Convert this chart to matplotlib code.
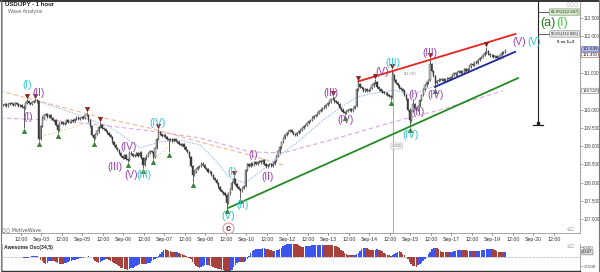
import numpy as np
import pandas as pd
import matplotlib
matplotlib.use("Agg")
import matplotlib.pyplot as plt
from matplotlib import transforms
from matplotlib.patches import Circle
from matplotlib.lines import Line2D

plt.rcParams['font.family'] = ['Liberation Sans', 'DejaVu Sans']

# ---------------------------------------------------------------- data
# hourly closes, USD/JPY
closes = [
    110.12, 110.15, 110.10, 110.14, 110.18, 110.16, 110.12, 110.18, 110.15, 110.10,
    110.12, 110.08, 110.05, 110.18, 110.24, 110.17, 110.14, 110.20, 110.23, 110.25,
    110.22, 109.20, 109.55, 109.78, 109.85, 109.88, 109.80, 109.84, 109.76, 109.72,
    109.70, 109.58, 109.45, 109.62, 109.66, 109.60, 109.64, 109.70, 109.65, 109.66,
    109.72, 109.68, 109.74, 109.78, 109.73, 109.77, 109.80, 109.76, 109.84, 109.86,
    109.70, 109.55, 109.30, 109.22, 109.32, 109.40, 109.52, 109.58, 109.50, 109.46,
    109.42, 109.36, 109.30, 109.25, 109.12, 109.02, 108.95, 108.88, 108.80, 108.72,
    108.68, 108.75, 108.64, 108.62, 108.82, 108.78, 108.72, 108.76, 108.80, 108.74,
    108.82, 108.68, 108.48, 108.66, 108.74, 108.80, 108.86, 108.84, 108.70, 108.95,
    109.20, 109.38, 109.32, 109.28, 109.30, 109.24, 109.20, 109.16, 109.20, 109.15,
    109.18, 109.14, 109.10, 109.06, 109.02, 109.05, 108.96, 108.90, 108.84, 108.70,
    108.45, 108.20, 108.30, 108.38, 108.42, 108.46, 108.52, 108.48, 108.40, 108.36,
    108.30, 108.28, 108.20, 108.12, 108.06, 107.98, 107.88, 107.80, 107.74, 107.70,
    107.66, 107.45, 107.70, 107.82, 108.00, 108.10, 107.95, 107.88, 107.82, 107.78,
    107.84, 107.90, 108.35, 108.50, 108.46, 108.52, 108.48, 108.55, 108.50, 108.56,
    108.60, 108.55, 108.62, 108.50, 108.44, 108.48, 108.50, 108.46, 108.52, 108.58,
    108.72, 108.85, 108.96, 109.10, 109.22, 109.30, 109.36, 109.42, 109.44, 109.38,
    109.34, 109.30, 109.36, 109.40, 109.44, 109.50, 109.55, 109.58, 109.62, 109.68,
    109.72, 109.78, 109.82, 109.86, 109.90, 109.95, 110.00, 110.04, 110.08, 110.12,
    110.18, 110.22, 110.28, 110.30, 110.22, 110.20, 110.16, 110.05, 110.00, 109.94,
    109.90, 109.96, 109.98, 110.02, 109.96, 110.04, 110.10, 110.55, 110.70, 110.62,
    110.58, 110.52, 110.56, 110.50, 110.54, 110.60, 110.66, 110.72, 110.76, 110.62,
    110.55, 110.52, 110.48, 110.45, 110.44, 110.40, 110.36, 110.34, 110.95, 110.80,
    110.72, 110.66, 110.60, 110.56, 110.52, 110.40, 110.28, 110.00, 109.70, 109.95,
    110.15, 110.05, 109.98, 110.10, 110.25, 110.40, 110.55, 110.66, 110.74, 110.80,
    111.25, 111.05, 110.92, 110.72, 110.78, 110.82, 110.80, 110.84, 110.78, 110.82,
    110.86, 110.84, 110.88, 110.95, 111.00, 110.96, 111.02, 111.05, 111.00, 111.04,
    111.10, 111.06, 111.10, 111.18, 111.24, 111.22, 111.30, 111.28, 111.36, 111.40,
    111.44, 111.50, 111.56, 111.60, 111.52, 111.48, 111.50, 111.44, 111.46, 111.40,
    111.44, 111.50, 111.56, 111.58, 111.63,
]

# long wicks (bar hour, extreme price)
spike_hi_hours = [14, 19, 49, 57, 91, 135, 193, 208, 218, 228, 240, 250, 283]
spike_hi_prices = [110.28, 110.28, 109.92, 109.65, 109.46, 108.17, 110.36, 110.77,
                   110.83, 111.10, 110.30, 111.40, 111.72]
spike_lo_hours = [12, 21, 32, 53, 73, 82, 88, 97, 111, 131, 139, 200, 227, 238, 253]
spike_lo_prices = [109.49, 109.14, 109.36, 109.14, 108.56, 108.40, 108.64, 108.84,
                   108.01, 107.30, 107.58, 109.85, 110.26, 109.52, 110.60]

# swing markers
swing_high_hours = [14, 19, 49, 57, 91, 135, 193, 208, 218, 228, 250, 283]
swing_low_hours = spike_lo_hours

# Elliott wave counts: (text, degree, hour, price)
wave_labels = [
    ("(I)", "minor", 14.1, 110.67), ("(II)", "minute", 20.5, 110.45),
    ("(I)", "minute", 14.6, 109.79), ("(III)", "minute", 65.6, 108.42),
    ("(IV)", "minute", 73.2, 108.97), ("(V)", "minute", 74.8, 108.21),
    ("(III)", "minor", 82.6, 108.21), ("(IV)", "minor", 90.7, 109.63),
    ("(V)", "minor", 131.7, 107.08), ("(I)", "minor", 134.1, 108.29),
    ("(II)", "minor", 140.0, 107.38), ("(I)", "minute", 146.4, 108.75),
    ("(II)", "minute", 154.6, 108.15), ("(III)", "minute", 192.0, 110.45),
    ("(IV)", "minute", 200.8, 109.71), ("(V)", "minute", 222.0, 111.03),
    ("(III)", "minor", 228.3, 111.27), ("(IV)", "minor", 238.3, 109.30),
    ("(I)", "minute", 240.0, 110.40), ("(II)", "minute", 243.5, 109.93),
    ("(III)", "minute", 250.0, 111.55), ("(IV)", "minute", 253.0, 110.40),
    ("(V)", "minute", 302.0, 111.85), ("(V)", "minor", 311.0, 111.85),
]

# trend channel
red_line_hours, red_line_prices = [208, 300], [110.77, 112.07]
navy_line_hours, navy_line_prices = [252.9, 299.8], [110.62, 111.58]
green_line_hours, green_line_prices = [131.7, 301.5], [107.30, 110.86]

# moving averages
orange_ma_hours = [-2, 27.5, 56.8, 86, 115.3, 144.6, 164]
orange_ma_prices = [110.51, 110.15, 109.79, 109.49, 109.11, 108.75, 108.48]
lilac_ma_hours = [-2, 27.5, 56.8, 91.9, 115.3, 144.6, 163.9, 191.5, 232.4, 255.9, 292.7]
lilac_ma_prices = [109.77, 109.71, 109.58, 109.38, 109.22, 108.84, 108.81, 109.16,
                   109.71, 109.99, 110.51]
blue_ma_hours = [21.7, 39.2, 62.6, 80.2, 91.9, 103.6, 115.3, 124.1, 132.9, 141.7, 150.5,
                 163.9, 173.9, 187.4, 197.2, 207.2, 217.7, 229.5, 238.3, 250.0, 261.7,
                 279.3, 293.9]
blue_ma_prices = [110.21, 109.93, 109.52, 108.95, 109.11, 109.16, 109.03, 108.62, 108.12,
                  107.99, 108.29, 108.81, 109.16, 109.71, 110.04, 110.34, 110.45, 110.53,
                  110.40, 110.59, 110.81, 111.19, 111.41]

# Fibonacci projection
fib_hour = 313.2
fib_low = 109.58
fib_levels = [112.67, 112.07]
fib_texts = ["61.8%(112.667)", "50.0%(112.065)"]

time_labels = ["12:00", "Sep-03", "12:00", "Sep-05", "12:00", "Sep-06", "12:00", "Sep-07",
               "12:00", "Sep-08", "12:00", "Sep-10", "12:00", "Sep-12", "12:00", "Sep-13",
               "12:00", "Sep-14", "12:00", "Sep-15", "12:00", "Sep-17", "12:00", "Sep-19",
               "12:00", "Sep-20", "12:00"]
first_label_hour = 10.5
label_step_hours = 12

price_ticks = [107.0, 107.5, 108.0, 108.5, 109.0, 109.5, 110.0, 110.5, 111.0, 111.5,
               112.0, 112.5]
osc_ticks = [0.5, -0.5]
last_price = 111.649
channel_value = 111.492
ma_value = 110.510

# ---------------------------------------------------------------- derived bars
c = np.array(closes)
n = len(c)
hours = np.arange(n)
o = np.r_[c[0], c[:-1]]
hi = np.maximum(o, c) + 0.03
lo = np.minimum(o, c) - 0.03
hi[spike_hi_hours] = np.maximum(hi[spike_hi_hours], spike_hi_prices)
lo[spike_lo_hours] = np.minimum(lo[spike_lo_hours], spike_lo_prices)

median = pd.Series((hi + lo) / 2)
ao = (median.rolling(5, min_periods=1).mean() - median.rolling(34, min_periods=1).mean()).values
ao_up = np.r_[True, ao[1:] >= ao[:-1]]

# ---------------------------------------------------------------- figure
W, H = 600, 272
fig = plt.figure(figsize=(6.0, 2.72), dpi=100, facecolor="white")

def fy(y_px):
    return 1 - y_px / H

XLIM = (-0.6, 337.8)
ax = fig.add_axes([2 / W, fy(233), 578 / W, 231 / H])
ax.set_xlim(*XLIM)
ax.set_ylim(106.617, 112.945)
ax.set_facecolor("white")

PURPLE = "#9b3fb2"
CYAN = "#2ec3d5"
deg_color = {"minute": PURPLE, "minor": CYAN}

# moving averages
ax.plot(orange_ma_hours, orange_ma_prices, ls=(0, (4, 2.5)), color="#f6b58c", lw=0.8, zorder=1)
ax.plot(lilac_ma_hours, lilac_ma_prices, ls=(0, (4, 2.5)), color="#dba8e2", lw=0.8, zorder=1)
ax.plot(blue_ma_hours, blue_ma_prices, ls=(0, (1.5, 1)), color="#a9c2f2", lw=0.8, zorder=1)
ax.plot([21.7, 49.2], [109.25, 109.63], ls=(0, (3, 2)), color="#ddd59c", lw=0.6, zorder=1)
ax.plot([87.8, 99.5], [108.62, 109.08], ls=(0, (3, 2)), color="#ddd59c", lw=0.6, zorder=1)

# vertical time marker
ax.plot([228.3, 228.3], [111.08, 106.617], color="#b0b0b0", lw=0.8, zorder=1)
ax.text(230.5, 109.0, "1.000", fontsize=2.8, color="#777", ha="center", va="center",
        bbox=dict(boxstyle="round,pad=0.25", fc="#f2f2f2", ec="#bbb", lw=0.4), zorder=3)
ax.text(234.5, 110.97, "111.040", fontsize=2.6, color="#888", ha="left", va="center", zorder=3)

# price bars
ax.vlines(hours, lo, hi, color="#454545", lw=0.6, zorder=2)
body = np.maximum(np.abs(c - o), 0.012)
up = c >= o
ax.bar(hours[up], body[up], bottom=np.minimum(o, c)[up], width=0.7,
       color="#c4c4c4", edgecolor="#3a3a3a", lw=0.3, zorder=2)
ax.bar(hours[~up], body[~up], bottom=np.minimum(o, c)[~up], width=0.7,
       color="#3a3a3a", edgecolor="#3a3a3a", lw=0.3, zorder=2)

# trend channel
ax.plot(red_line_hours, red_line_prices, color="#e8241f", lw=1.3, zorder=4)
ax.plot(navy_line_hours, navy_line_prices, color="#202a9c", lw=1.3, zorder=4)
ax.plot(green_line_hours, green_line_prices, color="#238b22", lw=1.3, zorder=4)

# swing markers
up_off = transforms.offset_copy(ax.transData, fig=fig, x=0, y=2.2, units="points")
dn_off = transforms.offset_copy(ax.transData, fig=fig, x=0, y=-2.2, units="points")
ax.plot(swing_high_hours, hi[swing_high_hours], "v", ms=3.2, color="#9c1c1c",
        mec="#6a1010", mew=0.3, ls="none", transform=up_off, zorder=5)
ax.plot(swing_low_hours, lo[swing_low_hours], "^", ms=3.2, color="#2d8c2d",
        mec="#1a5a1a", mew=0.3, ls="none", transform=dn_off, zorder=5)

# wave labels
for txt, deg, h, p in wave_labels:
    ax.text(h, p, txt, color=deg_color[deg], fontsize=7.3, ha="center", va="center", zorder=6)
ax.text(319.0, 112.37, "(a)", color="#1e7b1e", fontsize=9, ha="center", va="center", zorder=6)
ax.text(327.5, 112.37, "(I)", color="#45c845", fontsize=9, ha="center", va="center", zorder=6)

# overlay in pixel units for the circled wave c
px_ax = fig.add_axes([0, 0, 1, 1], facecolor="none")
px_ax.set_axis_off()
px_ax.set_xlim(0, W)
px_ax.set_ylim(H, 0)
px_ax.add_patch(Circle((228.5, 228.5), 5.5, fc="white", ec="#e09a9a", lw=0.8))
px_ax.text(228.5, 228.3, "c", color="#a01f1f", fontsize=6.5, fontweight="bold",
           ha="center", va="center")

# Fibonacci projection
ax.plot([fib_hour, fib_hour], [112.945, fib_low], color="#222", lw=0.8, zorder=4)
ax.plot([fib_hour - 3.2, fib_hour + 3.2], [fib_low, fib_low], color="#222", lw=0.9, zorder=4)
ax.plot([fib_hour], [fib_low + 0.05], "s", ms=1.6, color="#222", zorder=4)
for lvl, txt, fc in zip(fib_levels, fib_texts, ["#cfe8bd", "#e4e4e4"]):
    ax.plot([fib_hour, 320.8], [lvl, lvl], color="#444", lw=0.6, zorder=4)
    ax.text(328.8, lvl, txt, fontsize=2.9, color="#333", ha="center", va="center",
            bbox=dict(boxstyle="round,pad=0.3", fc=fc, ec="#8a8a8a", lw=0.4), zorder=6)
ax.text(329.5, 111.86, "5 vs 1+3", fontsize=3.2, color="#222", fontweight="bold",
        ha="center", va="center", zorder=6)

# price axis
ax.yaxis.tick_right()
ax.set_yticks(price_ticks)
ax.set_yticklabels([f"{v:.3f}" for v in price_ticks])
ax.set_yticks(np.arange(106.7, 112.95, 0.1), minor=True)
ax.tick_params(axis="y", which="major", labelsize=3.3, labelcolor="#444", length=1.8,
               width=0.5, color="#888", pad=0.6)
ax.tick_params(axis="y", which="minor", length=1, width=0.4, color="#aaa")
ax.set_xticks([])
ax.spines["top"].set_visible(False)
ax.spines["left"].set_color("#aaa")
ax.spines["left"].set_linewidth(0.6)
ax.spines["right"].set_color("#999")
ax.spines["right"].set_linewidth(0.6)
ax.spines["bottom"].set_color("#999")
ax.spines["bottom"].set_linewidth(0.6)

ytr = transforms.blended_transform_factory(ax.transAxes, ax.transData)
for val, fc, ec in [(ma_value, "#ffffff", "#777777"), (channel_value, "#ffffff", "#b05050"),
                    (last_price, "#b4bdf0", "#3a4a9a")]:
    ax.text(1.004, val, f"{val:.3f}", transform=ytr, fontsize=3.2, color="#222",
            ha="left", va="center", clip_on=False,
            bbox=dict(boxstyle="round,pad=0.15", fc=fc, ec=ec, lw=0.4), zorder=7)

# headings
fig.text(5 / W, fy(5), "USD/JPY - 1 hour", fontsize=4.3, fontweight="bold", color="#222",
         ha="left", va="center")
fig.text(8 / W, fy(11.5), "Wave Analysis", fontsize=3.8, color="#666", ha="left", va="center")
fig.text(572 / W, fy(5), "○○○", fontsize=3.6, color="#aaa", ha="center", va="center",
         family="DejaVu Sans")
fig.text(2.5 / W, fy(229.5), "○○ MotiveWave", fontsize=3.4, color="#555", ha="left",
         va="center", family="DejaVu Sans")
fig.text(571 / W, fy(229.5), "⊕⊡", fontsize=3.4, color="#aaa", ha="center", va="center",
         family="DejaVu Sans")

# time strip
axs = fig.add_axes([2 / W, fy(244), 578 / W, 11 / H])
axs.set_xlim(*XLIM)
axs.set_ylim(0, 1)
axs.set_xticks([])
axs.set_yticks([])
for s in axs.spines.values():
    s.set_visible(False)
axs.axhline(1, color="#999", lw=0.6)
axs.axhline(0, color="#aaa", lw=0.6)
for i, lab in enumerate(time_labels):
    h = first_label_hour + label_step_hours * i
    axs.plot([h, h], [1, 0.8], color="#777", lw=0.5)
    axs.text(h, 0.45, lab, fontsize=3.8, color="#333", ha="center", va="center")

# Awesome oscillator
axo = fig.add_axes([2 / W, fy(271), 578 / W, 27 / H])
axo.set_xlim(*XLIM)
axo.set_ylim(-0.74, 0.68)
axo.bar(hours[ao_up], ao[ao_up], width=0.9, color="#3c55f2", lw=0, zorder=2)
axo.bar(hours[~ao_up], ao[~ao_up], width=0.9, color="#a8403c", lw=0, zorder=2)
axo.axhline(0, color="#888", lw=0.5, ls=(0, (1, 1)), zorder=1)
axo.set_xticks([])
axo.yaxis.tick_right()
axo.set_yticks(osc_ticks)
axo.set_yticklabels([f"{v:.3f}" for v in osc_ticks])
axo.tick_params(axis="y", labelsize=3.2, labelcolor="#444", length=1.8, width=0.5,
                color="#888", pad=0.6)
axo.spines["top"].set_visible(False)
axo.spines["left"].set_color("#aaa")
axo.spines["left"].set_linewidth(0.6)
axo.spines["right"].set_color("#999")
axo.spines["right"].set_linewidth(0.6)
axo.spines["bottom"].set_color("#333")
axo.spines["bottom"].set_linewidth(1.0)
otr = transforms.blended_transform_factory(axo.transAxes, axo.transData)
axo.text(1.004, ao[-1], f"{ao[-1]:.3f}", transform=otr, fontsize=3.0, color="#222",
         ha="left", va="center", clip_on=False,
         bbox=dict(boxstyle="round,pad=0.15", fc="#d8d8d8", ec="#777", lw=0.4), zorder=7)
axo.text(0.003, 0.86, "Awesome Osc(34,5)", transform=axo.transAxes, fontsize=3.7,
         fontweight="bold", color="#222", ha="left", va="center")
fig.text(571 / W, fy(246.5), "⊕⊡", fontsize=3.4, color="#aaa", ha="center", va="center",
         family="DejaVu Sans")

# window frame
fig.add_artist(Line2D([0, 1], [fy(0.6), fy(0.6)], color="#333", lw=1.4))
fig.add_artist(Line2D([0.6 / W, 0.6 / W], [0, 1], color="#777", lw=0.8))
fig.add_artist(Line2D([599.4 / W, 599.4 / W], [0, 1], color="#777", lw=0.8))

fig.savefig("out.png", dpi=100, facecolor="white")
